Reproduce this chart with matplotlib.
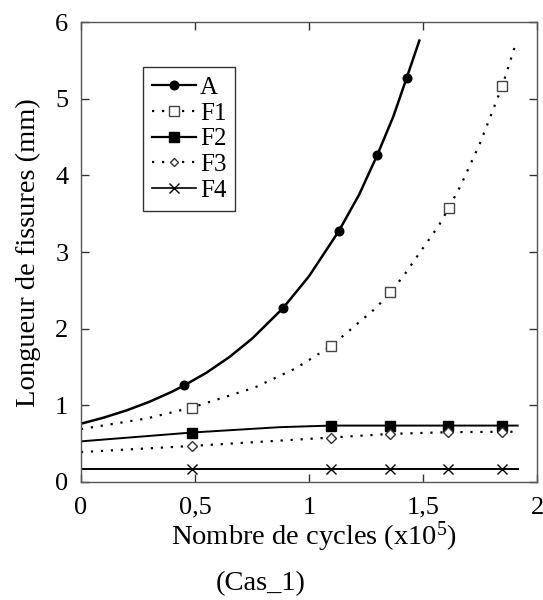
import matplotlib
matplotlib.use("Agg")
import matplotlib.pyplot as plt

plt.rcParams["font.family"] = ["Liberation Serif", "DejaVu Serif"]
plt.rcParams["mathtext.default"] = "regular"

# Measured points (markers) for each crack, x in 1e5 cycles, y in mm
A_X = [0.453, 0.885, 1.13, 1.30, 1.428]
A_Y = [1.26, 2.265, 3.27, 4.27, 5.27]
F1_X = [0.485, 1.096, 1.355, 1.612, 1.848]
F1_Y = [0.97, 1.77, 2.475, 3.57, 5.17]
F2_X = [0.485, 1.096, 1.355, 1.611, 1.848]
F2_Y = [0.645, 0.736, 0.736, 0.736, 0.736]
F3_X = [0.485, 1.096, 1.355, 1.611, 1.848]
F3_Y = [0.47, 0.58, 0.627, 0.65, 0.655]
F4_X = [0.485, 1.096, 1.355, 1.611, 1.848]
F4_Y = [0.165, 0.165, 0.165, 0.165, 0.165]

# Fitted curves
A_CX = [0, 0.1, 0.2, 0.3, 0.4, 0.453, 0.55, 0.65, 0.75, 0.885, 1.0, 1.13, 1.22, 1.30, 1.37, 1.428, 1.484]
A_CY = [0.76, 0.84, 0.934, 1.046, 1.179, 1.26, 1.425, 1.628, 1.869, 2.265, 2.684, 3.27, 3.75, 4.27, 4.77, 5.27, 5.76]
F1_CX = [0, 0.29, 0.485, 0.76, 0.94, 1.096, 1.297, 1.355, 1.41, 1.57, 1.612, 1.667, 1.75, 1.848, 1.91]
F1_CY = [0.69, 0.83, 0.97, 1.23, 1.48, 1.77, 2.28, 2.475, 2.67, 3.35, 3.57, 3.88, 4.42, 5.17, 5.75]
F2_CX = [0, 0.485, 0.87, 1.096, 1.915]
F2_CY = [0.53, 0.645, 0.715, 0.736, 0.736]
F3_CX = [0, 0.485, 1.096, 1.355, 1.611, 1.848, 1.915]
F3_CY = [0.39, 0.47, 0.58, 0.627, 0.65, 0.655, 0.655]
F4_CX = [0, 1.915]
F4_CY = [0.165, 0.165]

DOT = (0, (1, 3.5))

fig = plt.figure(figsize=(5.43, 6.0), dpi=100)
ax = fig.add_axes([0.149, 0.1967, 0.840, 0.7663])

# curves
ax.plot(A_CX, A_CY, color="black", lw=1.8, ls="-")
ax.plot(F1_CX, F1_CY, color="black", lw=1.6, ls=DOT)
ax.plot(F2_CX, F2_CY, color="black", lw=1.4, ls="-")
ax.plot(F3_CX, F3_CY, color="black", lw=1.6, ls=DOT)
ax.plot(F4_CX, F4_CY, color="black", lw=1.4, ls="-")

# markers
ax.plot(A_X, A_Y, ls="none", marker="o", ms=6.2, color="black")
ax.plot(F1_X, F1_Y, ls="none", marker="s", ms=7.5, mfc="white", mec="#444444", mew=1.0)
ax.plot(F2_X, F2_Y, ls="none", marker="s", ms=7.2, color="black")
ax.plot(F3_X, F3_Y, ls="none", marker="D", ms=5, mfc="white", mec="#333333", mew=1.0)
ax.plot(F4_X, F4_Y, ls="none", marker="x", ms=7, color="black", mew=1.0)

# legend proxies
h = [
    ax.plot([], [], color="black", lw=1.6, marker="o", ms=6.2)[0],
    ax.plot([], [], color="black", lw=1.6, ls=DOT, marker="s", ms=6.5, mfc="white", mec="#444444")[0],
    ax.plot([], [], color="black", lw=1.6, marker="s", ms=6.5)[0],
    ax.plot([], [], color="black", lw=1.6, ls=DOT, marker="D", ms=4.5, mfc="white", mec="#333333")[0],
    ax.plot([], [], color="black", lw=1.2, marker="x", ms=6.5)[0],
]
leg = ax.legend(h, ["A", "F1", "F2", "F3", "F4"], loc="upper left",
                bbox_to_anchor=(0.136, 0.902), fontsize=18, frameon=True,
                fancybox=False, edgecolor="#333333", framealpha=1,
                handlelength=1.76, handletextpad=0.16, labelspacing=0.13,
                borderpad=0.36, borderaxespad=0)
leg.get_frame().set_linewidth(1.0)

ax.set_xlim(0, 2)
ax.set_ylim(0, 6)
ax.set_xticks([0, 0.5, 1, 1.5, 2])
ax.set_xticklabels(["0", "0,5", "1", "1,5", "2"])
ax.set_yticks([0, 1, 2, 3, 4, 5, 6])
ax.tick_params(direction="in", length=6, width=1, top=True, right=True,
               labelsize=19, color="#333333")
ax.tick_params(axis="x", pad=10.5)
ax.tick_params(axis="y", pad=9)
for s in ax.spines.values():
    s.set_color("#555555")
    s.set_linewidth(1.0)

fig.text(28 / 543, 0.579, "Longueur de fissures (mm)", fontsize=20.5,
         rotation=90, ha="center", va="center")
fig.text(0.579, 0.0917, "Nombre de cycles (x10$^{5}$)", fontsize=20.5,
         ha="center", va="baseline")
fig.text(0.4797, 0.0167, "(Cas_1)", fontsize=20.5, ha="center", va="baseline")

fig.savefig("out.png", dpi=100)
